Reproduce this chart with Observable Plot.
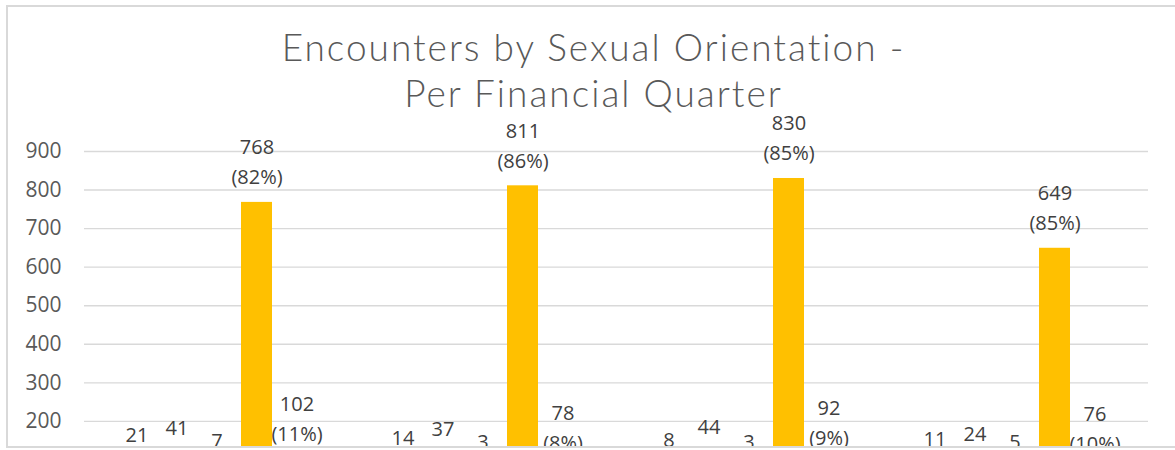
<!DOCTYPE html>
<html>
<head>
<meta charset="utf-8">
<script src="https://cdn.jsdelivr.net/npm/d3@7"></script>
<script src="https://cdn.jsdelivr.net/npm/@observablehq/plot@0.6"></script>
<style>
  html, body { margin: 0; padding: 0; overflow: hidden; background: #fff; width: 1175px; height: 450px; }
  #clip { position: absolute; left: 0; top: 0; width: 1175px; height: 446px; overflow: hidden; }
  #title { position: absolute; left: 10px; width: 1167px; top: 24px; text-align: center;
           font-family: Lato, "Open Sans", sans-serif; font-size: 37px; line-height: 46px; color: #595959;
           font-weight: 300; letter-spacing: 2px; }
  #frame { position: absolute; left: 6px; top: 5px; width: 1200px; height: 439px;
           border-top: 2px solid #d9d9d9; border-left: 2px solid #d9d9d9; border-bottom: 2px solid #d9d9d9; pointer-events: none; }
</style>
</head>
<body>
<div id="clip"></div>
<div id="title">Encounters by Sexual Orientation -<br>Per Financial Quarter</div>
<div id="frame"></div>
<script>
const quarters = ["Q1", "Q2", "Q3", "Q4"];
const categories = ["Bisexual", "Gay / Lesbian", "Other", "Heterosexual", "Not stated"];
const q1Values = [21, 41, 7, 768, 102];
const q2Values = [14, 37, 3, 811, 78];
const q3Values = [8, 44, 3, 830, 92];
const q4Values = [11, 24, 5, 649, 76];
const seriesColors = ["#4472C4", "#ED7D31", "#A5A5A5", "#FFC000", "#5B9BD5"];
const yTicks = [0, 100, 200, 300, 400, 500, 600, 700, 800, 900];

const byQuarter = [q1Values, q2Values, q3Values, q4Values];
const data = quarters.flatMap((q, i) => {
  const vals = byQuarter[i];
  const total = d3.sum(vals);
  return vals.map((v, j) => ({
    quarter: q,
    category: categories[j],
    value: v,
    pct: Math.round(v / total * 100)
  }));
});

const chart = Plot.plot({
  width: 1175,
  height: 538,
  marginLeft: 83,
  marginRight: 26,
  marginTop: 151,
  marginBottom: 40,
  style: { fontFamily: "'Open Sans', sans-serif", background: "transparent", overflow: "visible" },
  fx: { domain: quarters, paddingInner: 0, paddingOuter: 0, label: null, axis: null },
  x: { domain: categories, paddingInner: 0.22, paddingOuter: 0.86, axis: null },
  y: { domain: [0, 900], axis: null },
  color: { domain: categories, range: seriesColors },
  marks: [
    Plot.gridY(yTicks, { stroke: "#d9d9d9", strokeOpacity: 1, strokeWidth: 1.4 }),
    Plot.axisY(yTicks, { tickSize: 0, tickPadding: 23, fontSize: 21, fill: "#595959", label: null }),
    Plot.barY(data, { fx: "quarter", x: "category", y: "value", fill: "category" }),
    Plot.text(data, {
      fx: "quarter", x: "category", y: "value",
      text: d => `${d.value}\n(${d.pct}%)`,
      lineAnchor: "bottom", lineHeight: 1.5, dy: -18,
      fontSize: 20, fill: "#404040"
    })
  ]
});
document.getElementById("clip").appendChild(chart);
</script>
</body>
</html>
